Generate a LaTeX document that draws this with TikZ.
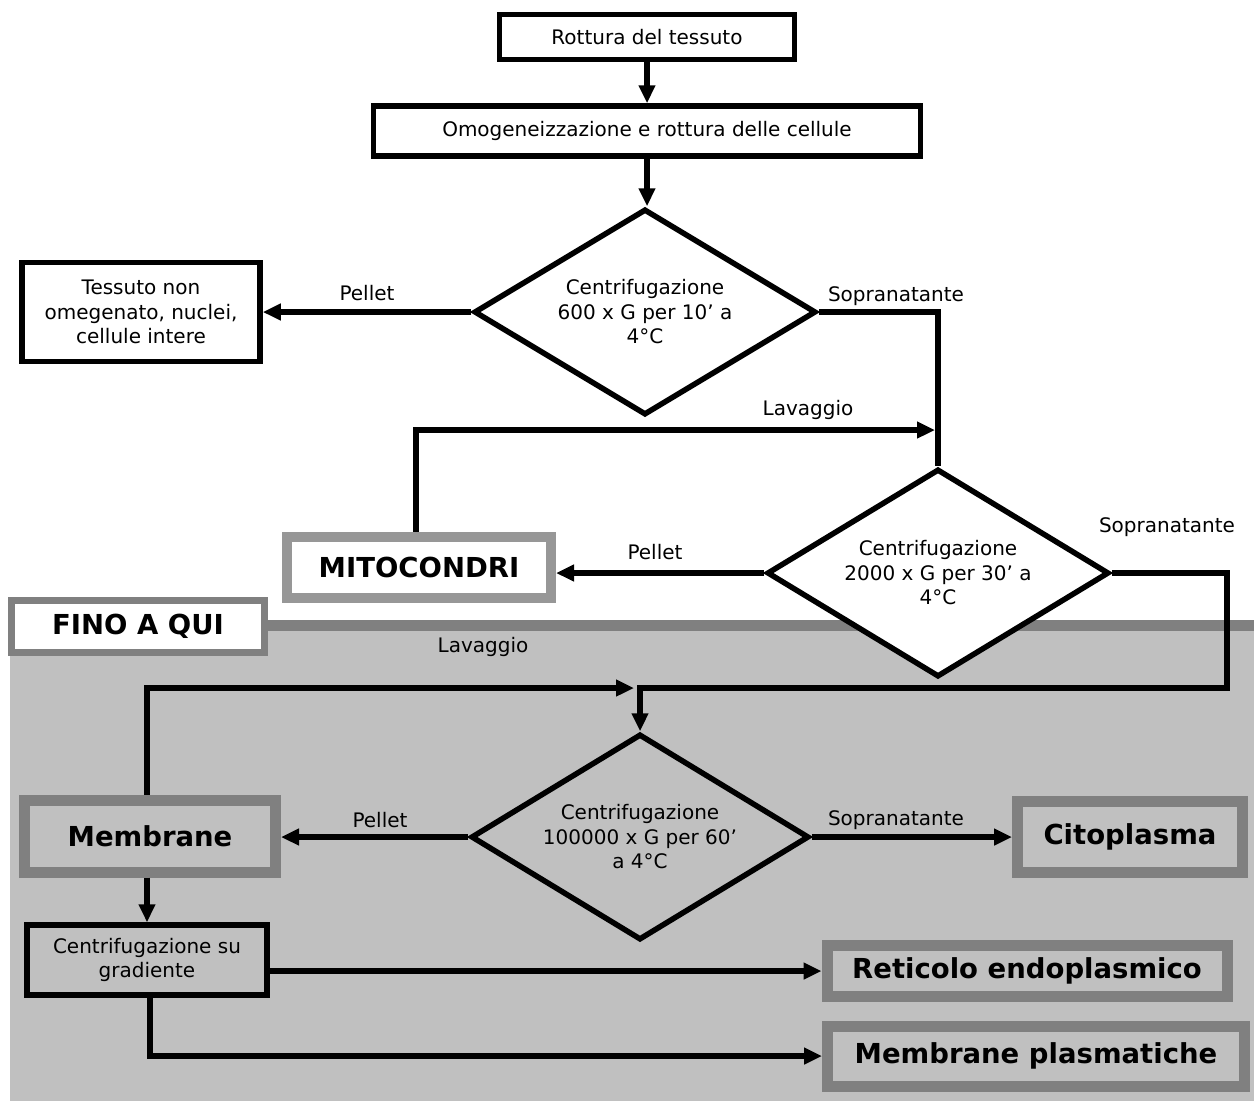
\documentclass[tikz,border=0pt]{standalone}
\usepackage{fontspec}
\setmainfont{DejaVu Sans}
\usetikzlibrary{arrows.meta,shapes.geometric}
\definecolor{bglight}{HTML}{C0C0C0}
\definecolor{bgdark}{HTML}{808080}
\definecolor{checkgray}{HTML}{979797}
\begin{document}
\begin{tikzpicture}[x=1pt,y=-1pt,
  txt/.style={font=\fontsize{20}{24.5}\selectfont},
  btxt/.style={font=\fontsize{27.5}{30}\selectfont\bfseries},
  blackbox/.style={draw=black,line width=5.5pt,fill=white,inner sep=0pt,align=center,txt},
  graybox/.style={draw=bgdark,line width=11pt,fill=bglight,inner sep=0pt,align=center,btxt},
  mitobox/.style={draw=checkgray,line width=10pt,fill=white,inner sep=0pt,align=center,btxt},
  finobox/.style={draw=bgdark,line width=7pt,fill=white,inner sep=0pt,align=center,btxt},
  dia/.style={diamond,draw=black,line width=5.5pt,fill=white,inner sep=0pt,aspect=1.65,align=center,
    font=\fontsize{20}{24.5}\selectfont,line join=miter},
  conn/.style={line width=5.5pt,line join=miter,draw=black},
  arr/.style={conn,-{Triangle[length=18pt,width=16pt]}},
  lbl/.style={txt,inner sep=0pt}
]
\useasboundingbox (0,0) rectangle (1254,1101);
% backgrounds
\fill[bglight] (10,631) rectangle (1254,1101);
\fill[bgdark] (268,620) rectangle (1254,631);

% nodes
\node[blackbox,minimum width=295pt,minimum height=45pt] (rot) at (647,37) {Rottura del tessuto};
\node[blackbox,minimum width=547pt,minimum height=50pt] (omo) at (647,131) {Omogeneizzazione e rottura delle cellule};
\node[dia,minimum width=342pt,minimum height=206pt] (d1) at (645,312) {Centrifugazione\\600 x G per 10’ a\\4°C};
\node[blackbox,minimum width=238pt,minimum height=99pt] (tess) at (141,312) {Tessuto non\\omegenato, nuclei,\\cellule intere};
\node[dia,minimum width=342pt,minimum height=208pt] (d2) at (938,573) {Centrifugazione\\2000 x G per 30’ a\\4°C};
\node[mitobox,minimum width=264pt,minimum height=61pt] (mito) at (419,567) {MITOCONDRI};
\node[finobox,minimum width=253pt,minimum height=52pt] (fino) at (138,626) {FINO A QUI};
\node[dia,fill=bglight,minimum width=338pt,minimum height=206pt] (d3) at (640,837) {Centrifugazione\\100000 x G per 60’\\a 4°C};
\node[graybox,minimum width=251pt,minimum height=72pt] (memb) at (150,836) {Membrane};
\node[graybox,minimum width=225pt,minimum height=71pt] (cito) at (1130,837) {Citoplasma};
\node[blackbox,fill=bglight,minimum width=240pt,minimum height=70pt] (grad) at (147,960) {Centrifugazione su\\gradiente};
\node[graybox,minimum width=400pt,minimum height=51pt] (ret) at (1027,971) {Reticolo endoplasmico};
\node[graybox,minimum width=417pt,minimum height=60pt] (mplas) at (1036,1056) {Membrane plasmatiche};

% labels
\node[lbl] (p1) at (367,293) {Pellet};
\node[lbl] (s1) at (896,296) {Sopranatante};
\node[lbl] (l1) at (808,410) {Lavaggio};
\node[lbl] (p2) at (655,552) {Pellet};
\node[lbl] (s2) at (1167,527) {Sopranatante};
\node[lbl] (l2) at (483,647) {Lavaggio};
\node[lbl] (p3) at (380,820) {Pellet};
\node[lbl] (s3) at (896,820) {Sopranatante};

% coordinates
\coordinate (lav1) at (935,430);
\coordinate (c2) at (1227,688);
\coordinate (lav2) at (634,688);

% connectors
\draw[arr] (rot.south) -- (rot.south |- omo.north);
\draw[arr] (omo.south) -- (omo.south |- d1.north);
\draw[arr] (d1.west) -- (d1.west -| tess.east);
\draw[conn] (d1.east) -| (d2.north);
\draw[arr] ([xshift=-3pt]mito.north) |- (lav1);
\draw[arr] (d2.west) -- (d2.west -| mito.east);
\draw[arr] (d2.east) -| (c2) -| (d3.north);
\draw[arr] ([xshift=-3pt]memb.north) |- (lav2);
\draw[arr] (d3.west) -- (d3.west -| memb.east);
\draw[arr] (d3.east) -- (d3.east -| cito.west);
\draw[arr] ([xshift=-3pt]memb.south) -- ([xshift=-3pt]memb.south |- grad.north);
\draw[arr] (grad.east |- ret.west) -- (ret.west);
\draw[arr] ([xshift=3pt]grad.south) |- (mplas.west);
\end{tikzpicture}
\end{document}
